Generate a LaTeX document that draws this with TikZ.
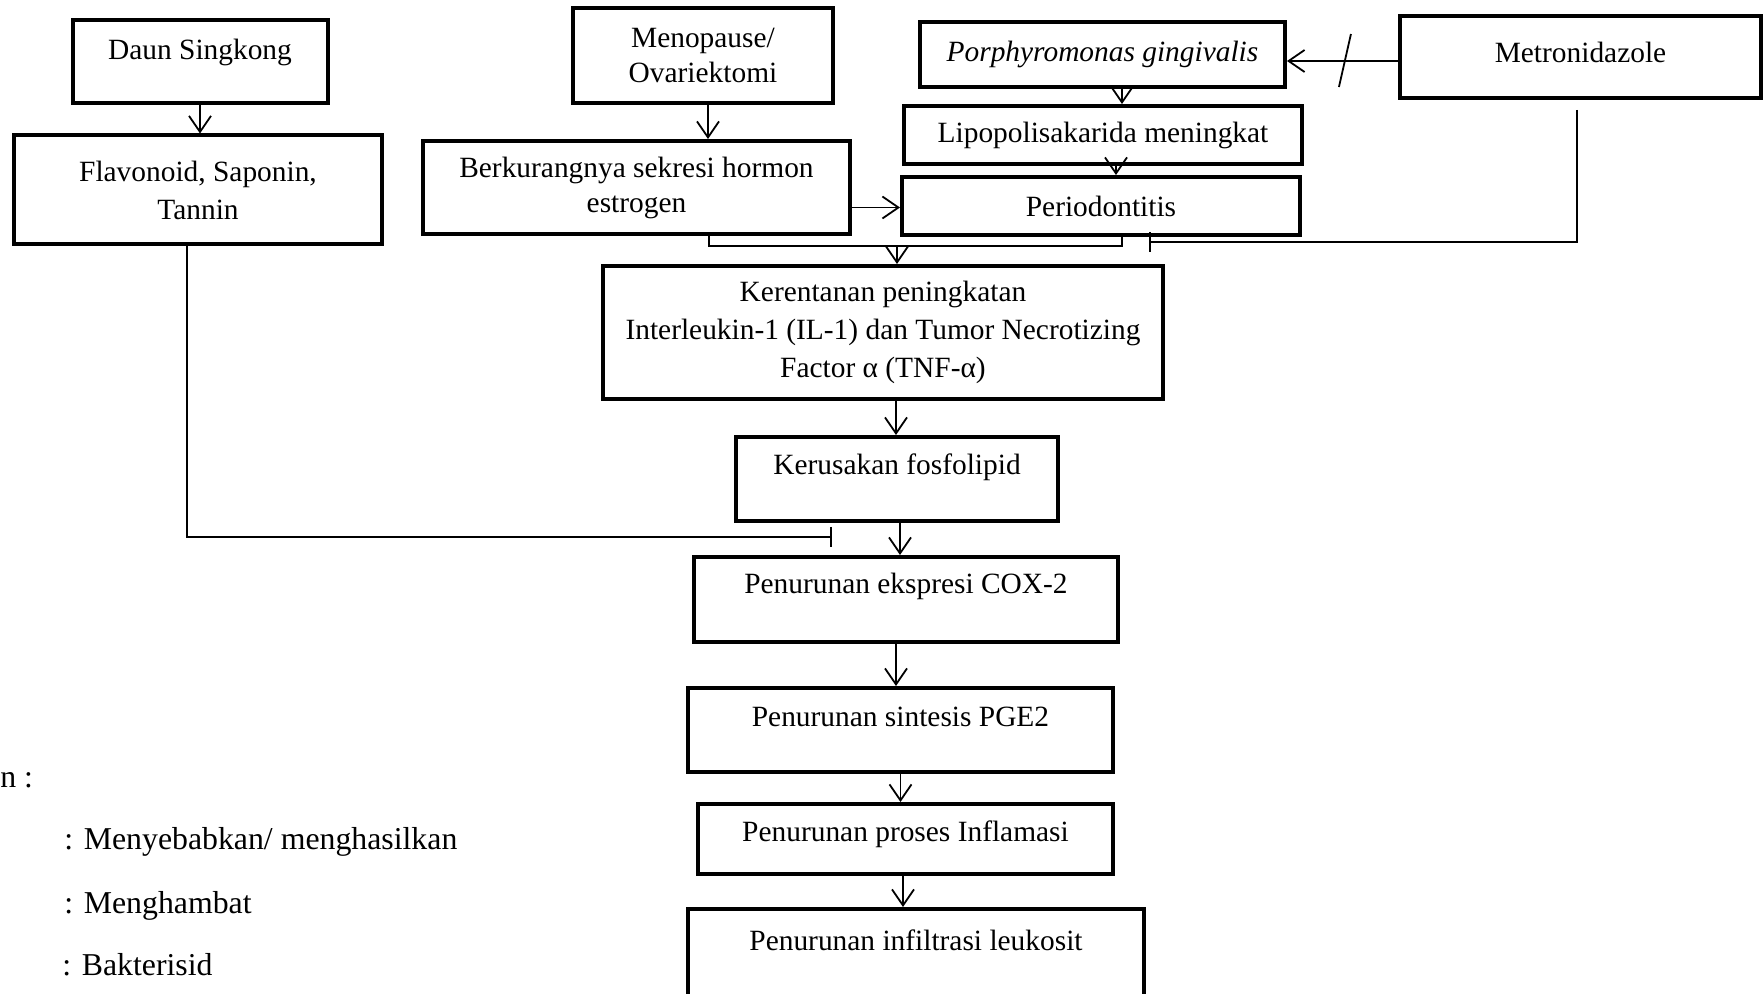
\documentclass[tikz,border=0pt]{standalone}
\usepackage{fontspec}
\setmainfont{Liberation Serif}
\usetikzlibrary{arrows.meta}
\newcommand{\lift}[2]{\raisebox{#1}[\height][\depth]{#2}}
\begin{document}
\begin{tikzpicture}[x=0.5pt, y=-0.5pt,
    font=\fontsize{14.7}{17.5}\selectfont,
    box/.style={draw, line width=2pt, align=center, inner sep=0pt},
    arr/.style={-{Straight Barb[length=8pt, width=11pt]}, line width=0.9pt},
    inh/.style={-{Bar[width=10pt]}, line width=0.9pt},
    legend/.style={anchor=base west, inner sep=0pt, font=\fontsize{15.9}{19}\selectfont}]
  \useasboundingbox (0,0) rectangle (1763,994);

  \node[box, minimum width=127.5pt, minimum height=41.5pt] (daun) at (200,61.5) {\lift{4.5pt}{Daun Singkong}};
  \node[box, minimum width=184pt, minimum height=54.5pt, font=\fontsize{14.7}{19}\selectfont] (flav) at (198,190) {Flavonoid, Saponin,\\Tannin};
  \node[box, minimum width=130pt, minimum height=47.5pt] (meno) at (703,55.5) {Menopause/\\Ovariektomi};
  \node[box, minimum width=213.5pt, minimum height=46.5pt] (berk) at (636.5,187.5) {Berkurangnya sekresi hormon\\estrogen};
  \node[box, minimum width=182.5pt, minimum height=32.5pt] (porph) at (1102.5,54.5) {\textit{Porphyromonas gingivalis}};
  \node[box, minimum width=180.5pt, minimum height=41pt] (metro) at (1580.5,57) {\lift{2.5pt}{Metronidazole}};
  \node[box, minimum width=199pt, minimum height=29pt] (lipo) at (1103,135) {Lipopolisakarida meningkat};
  \node[box, minimum width=199pt, minimum height=29pt] (perio) at (1101,206) {Periodontitis};
  \node[box, minimum width=280pt, minimum height=66.5pt, font=\fontsize{14.7}{19}\selectfont] (keren) at (883,332.5) {Kerentanan peningkatan\\Interleukin-1 (IL-1) dan Tumor Necrotizing\\Factor α (TNF-α)};
  \node[box, minimum width=161pt, minimum height=42pt] (kerus) at (897,479) {\lift{6pt}{Kerusakan fosfolipid}};
  \node[box, minimum width=212pt, minimum height=42.5pt] (ekspr) at (906,599.5) {\lift{6.5pt}{Penurunan ekspresi COX-2}};
  \node[box, minimum width=212.5pt, minimum height=42pt] (sint) at (900.5,730) {\lift{6.5pt}{Penurunan sintesis PGE2}};
  \node[box, minimum width=207.5pt, minimum height=35pt] (pros) at (905.5,839) {\lift{2.5pt}{Penurunan proses Inflamasi}};
  \node[box, minimum width=228pt, minimum height=47.5pt] (infil) at (916,956.5) {\lift{8pt}{Penurunan infiltrasi leukosit}};

  \node[legend] (ket) at (0,787) {n :};
  \node[legend] (leg1) at (64,849) {: Menyebabkan/ menghasilkan};
  \node[legend] (leg2) at (64,913) {: Menghambat};
  \node[legend] (leg3) at (62,975) {: Bakterisid};

  \coordinate (join) at (897,246);
  \coordinate (pbar) at (1149,242);
  \coordinate (fbar) at (832,537);

  \draw[arr] (daun.south) -- (daun.south |- flav.north);
  \draw[arr] ([xshift=2.5pt]meno.south) -- ([xshift=2.5pt]meno.south |- berk.north);
  \draw[arr] ([xshift=9.75pt]porph.south) -- ([xshift=9.75pt]porph.south |- lipo.north);
  \draw[arr] ([xshift=6.5pt]lipo.south) -- ([xshift=6.5pt]lipo.south |- perio.north);
  \draw[arr] ([yshift=-2pt]metro.west) -- coordinate[pos=0.478] (cut) ([yshift=-2pt]metro.west -| porph.east);
  \draw[line width=0.9pt] ([shift={(3pt,13.5pt)}]cut) -- ([shift={(-3pt,-13pt)}]cut);
  \draw[arr] ([yshift=-10pt]berk.east) -- ([yshift=-10pt]berk.east -| perio.west);
  \draw[line width=0.9pt] ([xshift=36.25pt]berk.south) |- ([xshift=10.5pt]perio.south |- join) -- ([xshift=10.5pt]perio.south);
  \draw[arr] (join) -- (join |- keren.north);
  \draw[inh] ([xshift=-1.75pt, yshift=-5pt]metro.south) |- (pbar);
  \draw[arr] ([xshift=6.5pt]keren.south) -- ([xshift=6.5pt]keren.south |- kerus.north);
  \draw[inh] ([xshift=-5.5pt]flav.south) |- (fbar);
  \draw[arr] ([xshift=1.5pt]kerus.south) -- ([xshift=1.5pt]kerus.south |- ekspr.north);
  \draw[arr] ([xshift=-5pt]ekspr.south) -- ([xshift=-5pt]ekspr.south |- sint.north);
  \draw[arr] (sint.south) -- (sint.south |- pros.north);
  \draw[arr] ([xshift=-1.25pt]pros.south) -- ([xshift=-1.25pt]pros.south |- infil.north);
\end{tikzpicture}
\end{document}
